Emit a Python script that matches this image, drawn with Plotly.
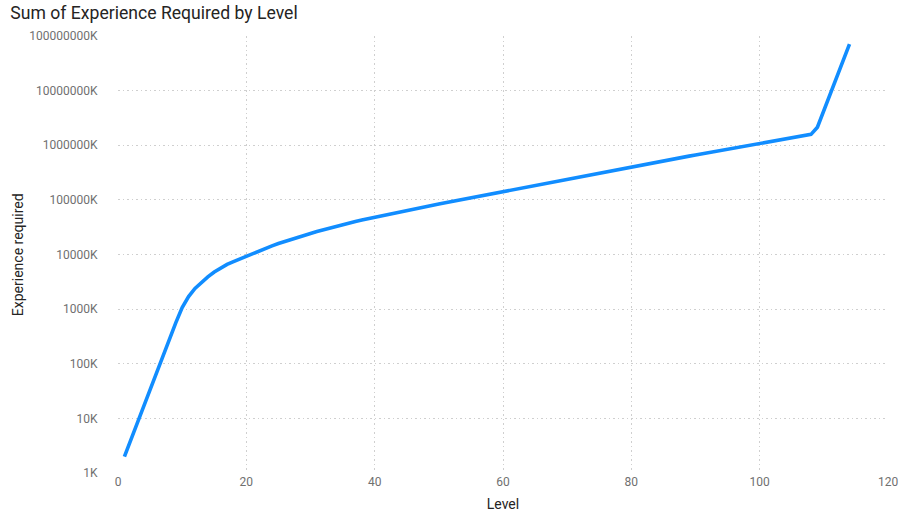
import plotly.graph_objects as go

levels = list(range(1, 115))
experience = [
    2000, 4070, 8320, 16600, 33900, 67600, 138000, 275000, 562000, 1071500,
    1698200, 2399000, 3090000, 3890000, 4786000, 5623000, 6607000, 7413000, 8318000, 9333000,
    10470000, 11695000, 13000000, 14390000, 15850000, 17380000, 18970000, 20650000, 22440000, 24320000,
    26300000, 28380000, 30550000, 32810000, 35160000, 37580000, 40090000, 42660000, 45290000, 48080000,
    50990000, 54020000, 57210000, 60530000, 64050000, 67690000, 71530000, 75510000, 79710000, 84140000,
    88720000, 93540000, 98630000, 103940000, 109560000, 115400000, 121560000, 128000000, 134760000, 141830000,
    149540000, 157680000, 166250000, 175280000, 184810000, 194860000, 205460000, 216620000, 228400000, 240810000,
    253900000, 267710000, 282260000, 297600000, 313780000, 330840000, 348830000, 367790000, 387780000, 408860000,
    429410000, 450640000, 472930000, 496320000, 520870000, 546630000, 573670000, 602040000, 631820000, 663070000,
    695860000, 730280000, 766400000, 804300000, 844080000, 885830000, 929640000, 975660000, 1025200000, 1076000000,
    1129200000, 1185100000, 1243700000, 1305200000, 1369800000, 1437600000, 1508700000, 1583300000, 2138000000, 4266000000,
    8511000000, 16982000000, 34674000000, 70795000000,
]

y_tickvals = [1e3, 1e4, 1e5, 1e6, 1e7, 1e8, 1e9, 1e10, 1e11]
y_ticktext = ["1K", "10K", "100K", "1000K", "10000K", "100000K", "1000000K", "10000000K", "100000000K"]
x_tickvals = [0, 20, 40, 60, 80, 100, 120]

fig = go.Figure()
fig.add_trace(go.Scatter(
    x=levels, y=experience, mode="lines",
    line=dict(color="#118DFF", width=3.6),
    hoverinfo="x+y",
))

font_family = "Roboto, 'Noto Sans', sans-serif"
grid_color = "#CFCFCF"
grid_dash = "1.5px,3px"

fig.update_layout(
    width=900, height=517,
    paper_bgcolor="white", plot_bgcolor="white",
    margin=dict(l=118.3, r=11.7, t=36, b=43.7, autoexpand=False),
    showlegend=False,
    font=dict(family=font_family),
    title=dict(
        text="Sum of Experience Required by Level",
        x=0.0115, xanchor="left", y=0.975, yanchor="middle",
        font=dict(size=17.6, color="#252423", family=font_family),
    ),
    annotations=[dict(
        text="Experience required", textangle=-90,
        xref="paper", yref="paper", x=-0.1303, y=0.5,
        xanchor="center", yanchor="middle", showarrow=False,
        font=dict(size=14, color="#252423", family=font_family),
    )],
)

fig.update_xaxes(
    range=[0, 120], tickvals=x_tickvals, automargin=False,
    showgrid=True, gridcolor=grid_color, griddash=grid_dash, gridwidth=1,
    zeroline=False, showline=False,
    tickfont=dict(size=12, color="#707070"),
    ticks="",
    title=dict(text="Level", font=dict(size=14, color="#252423"), standoff=11),
)

fig.update_yaxes(
    type="log", range=[3, 11], tickvals=y_tickvals, ticktext=y_ticktext, automargin=False,
    showgrid=True, gridcolor=grid_color, griddash=grid_dash, gridwidth=1,
    zeroline=False, showline=False,
    tickfont=dict(size=12, color="#707070"),
    ticks="outside", ticklen=17, tickcolor="rgba(0,0,0,0)",
)

# remove the browser's default 8px body margin so the figure fills the window
fig.write_html(
    "out.html",
    config={"displayModeBar": False},
    post_script="document.body.style.margin='0px';",
)
